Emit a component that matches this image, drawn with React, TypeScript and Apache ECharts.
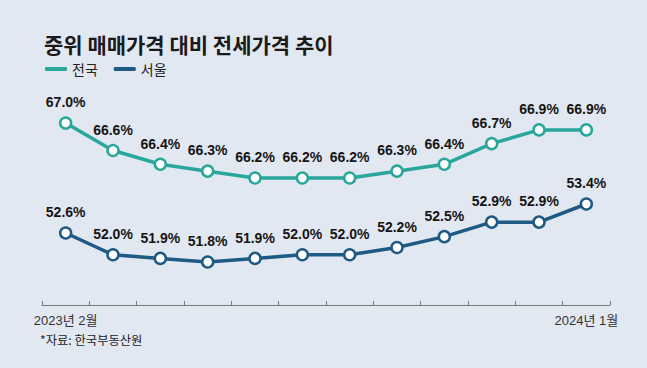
import React, { useEffect, useRef } from "react";
import * as echarts from "echarts";

const months = [
  "2023년 2월", "2023년 3월", "2023년 4월", "2023년 5월", "2023년 6월", "2023년 7월",
  "2023년 8월", "2023년 9월", "2023년 10월", "2023년 11월", "2023년 12월", "2024년 1월",
];
const nationwide = [67.0, 66.6, 66.4, 66.3, 66.2, 66.2, 66.2, 66.3, 66.4, 66.7, 66.9, 66.9];
const seoul = [52.6, 52.0, 51.9, 51.8, 51.9, 52.0, 52.0, 52.2, 52.5, 52.9, 52.9, 53.4];
const seriesNames = ["전국", "서울"];
const titleText = "중위 매매가격 대비 전세가격 추이";
const sourceText = "*자료: 한국부동산원";

const TEAL = "#2aa79b";
const NAVY = "#1f5a84";
const FONT = "'Liberation Sans', 'Noto Sans CJK KR', sans-serif";
const KFONT = "'Noto Sans CJK KR', sans-serif";

export default function App() {
  const ref = useRef<HTMLDivElement>(null);
  useEffect(() => {
    if (!ref.current) return;
    const chart = echarts.init(ref.current, undefined, { renderer: "svg" });
    const mkSeries = (name: string, data: number[], color: string, yIdx: number) => ({
      name,
      type: "line",
      yAxisIndex: yIdx,
      data,
      symbol: "circle",
      symbolSize: 11,
      lineStyle: { color, width: 3.5 },
      itemStyle: { color: "#ffffff", borderColor: color, borderWidth: 2.5 },
      label: {
        show: true,
        position: "top",
        distance: 7,
        formatter: (p: any) => p.value.toFixed(1) + "%",
        fontFamily: FONT,
        fontWeight: "bold",
        fontSize: 14,
        color: "#151515",
      },
    });
    chart.setOption({
      animation: false,
      backgroundColor: "#e2e8f2",
      title: {
        text: titleText,
        left: 39,
        top: 28,
        textStyle: { fontFamily: KFONT, fontWeight: "bold", fontSize: 21, color: "#1a1a1a" },
      },
      legend: {
        left: 40,
        top: 57,
        itemWidth: 22,
        itemHeight: 4,
        itemGap: 16,
        icon: "roundRect",
        data: [
          { name: seriesNames[0], itemStyle: { color: TEAL, borderWidth: 0 } },
          { name: seriesNames[1], itemStyle: { color: NAVY, borderWidth: 0 } },
        ],
        textStyle: { fontFamily: KFONT, fontSize: 14, color: "#222" },
      },
      grid: { left: 42, right: 37, top: 100, bottom: 63 },
      xAxis: {
        type: "category",
        data: months,
        boundaryGap: true,
        axisLine: { lineStyle: { color: "#777", width: 1 } },
        axisTick: { show: true, inside: true, length: 4, lineStyle: { color: "#777" } },
        axisLabel: {
          interval: 0,
          margin: 9,
          fontFamily: FONT,
          fontSize: 13,
          color: "#333",
          formatter: (v: string, i: number) => (i === 0 || i === months.length - 1 ? v : ""),
        },
      },
      yAxis: [
        { type: "value", min: 64.353, max: 67.335, show: false, splitLine: { show: false } },
        { type: "value", min: 50.614, max: 56.269, show: false, splitLine: { show: false } },
      ],
      graphic: [
        {
          type: "text",
          left: 40,
          top: 334,
          style: { text: sourceText, fontFamily: KFONT, fontSize: 12.3, fill: "#222" },
        },
      ],
      series: [mkSeries(seriesNames[0], nationwide, TEAL, 0), mkSeries(seriesNames[1], seoul, NAVY, 1)],
    });
    return () => chart.dispose();
  }, []);
  return <div ref={ref} style={{ width: 647, height: 368, position: "absolute", left: 0, top: 0 }} />;
}
